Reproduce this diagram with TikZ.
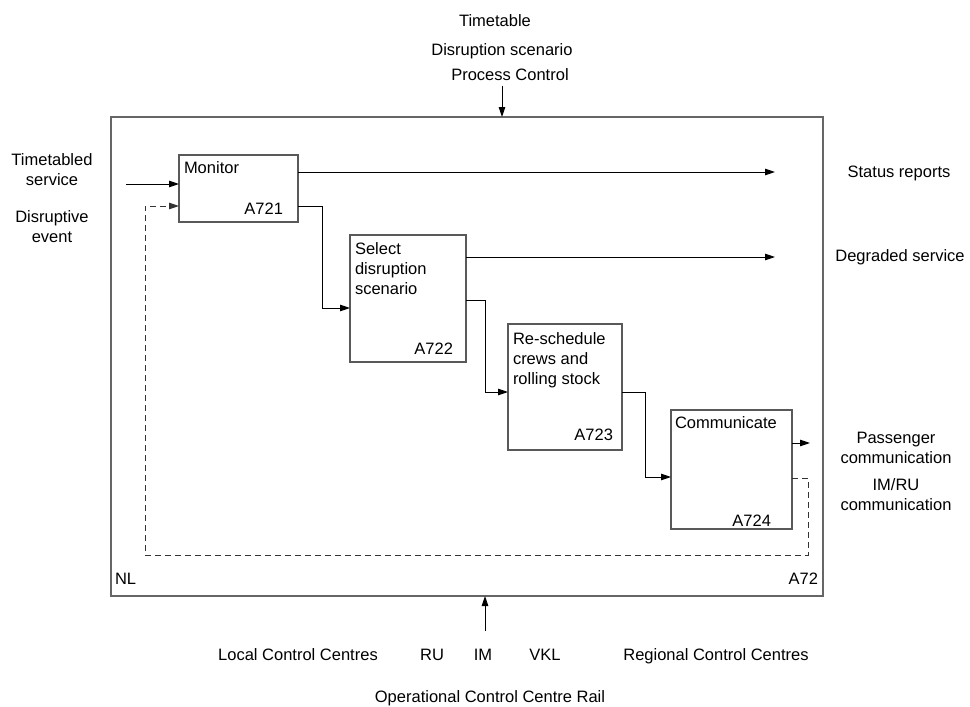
\documentclass[tikz,border=0pt]{standalone}
\usepackage{fontspec}
\setmainfont{Liberation Sans}
\usetikzlibrary{arrows.meta}
\begin{document}
\begin{tikzpicture}[x=1pt,y=-1pt,
  every node/.style={inner sep=0pt, outer sep=0pt},
  txt/.style={font=\fontsize{16.5}{20}\selectfont},
  lbl/.style={txt, align=center, anchor=north},
  onel/.style={txt, anchor=base},
  inlbl/.style={txt, align=left, anchor=north west},
  code/.style={txt, anchor=base east},
  activity/.style={draw=black!65, line width=1.1pt, anchor=north west},
  frame/.style={draw=black!60, line width=1.5pt, anchor=north west},
  flow/.style={draw=black, line width=0.9pt, -{Triangle[length=10pt,width=6.5pt]}},
  feedback/.style={flow, draw=black!80, dash pattern=on 6pt off 4pt}]

\useasboundingbox (0,0) rectangle (970,707);

% context frame of A72
\node[frame, minimum width=712, minimum height=479] (A72) at (111,117) {};
\node[txt, anchor=base west] (nl) at (115,584) {NL};
\node[code] (a72) at (818,584) {A72};

% activity boxes
\node[activity, minimum width=119, minimum height=67] (m) at (179,155) {};
\node[activity, minimum width=116, minimum height=127] (s) at (350,235) {};
\node[activity, minimum width=114, minimum height=126] (r) at (508,324) {};
\node[activity, minimum width=121, minimum height=119] (c) at (671,410) {};

\node[inlbl] (mt) at (184,162) {Monitor};
\node[code] (mc) at (283,214) {A721};
\node[inlbl] (st) at (355,243) {Select\\disruption\\scenario};
\node[code] (sc) at (453,354) {A722};
\node[inlbl] (rt) at (513,333) {Re-schedule\\crews and\\rolling stock};
\node[code] (rc) at (613,440) {A723};
\node[inlbl] (ct) at (675,417) {Communicate};
\node[code] (cc) at (771,526) {A724};

% controls (top)
\node[onel] (ctl1) at (495,26) {Timetable};
\node[onel] (ctl2) at (502,55) {Disruption scenario};
\node[onel] (ctl3) at (510,80) {Process Control};
\coordinate (ctlin) at (502,86);
\draw[flow] (ctlin) -- (ctlin |- A72.north);

% inputs (left)
\node[lbl] (in1) at (52,154) {Timetabled\\service};
\node[lbl] (in2) at (52,211) {Disruptive\\event};
\coordinate (tin) at (126,184);
\draw[flow] (tin) -- (tin -| m.west);

% outputs (right)
\node[onel] (out1) at (899,177) {Status reports};
\node[onel] (out2) at (900,261) {Degraded service};
\node[lbl] (out3) at (896,432) {Passenger\\communication};
\node[lbl] (out4) at (896,479) {IM/RU\\communication};
\coordinate (so) at (775,172);
\coordinate (dg) at (775,257);
\coordinate (pc) at (810,443);
\draw[flow] (m.east |- so) -- (so);
\draw[flow] (s.east |- dg) -- (dg);
\draw[flow] (c.east |- pc) -- (pc);

% flow between activities
\draw[flow] ([yshift=-51pt]m.north east) -- ++(24,0) |- ([yshift=-73pt]s.north west);
\draw[flow] ([yshift=-65pt]s.north east) -- ++(19,0) |- ([yshift=-68pt]r.north west);
\draw[flow] ([yshift=-68pt]r.north east) -- ++(23,0) |- ([yshift=-67pt]c.north west);

% feedback loop
\coordinate (fb1) at (808,555);
\coordinate (fb2) at (145,555);
\draw[feedback] ([yshift=-68pt]c.north east) -| (fb1) -- (fb2) |- ([yshift=-51pt]m.north west);

% mechanisms (bottom)
\coordinate (mech) at (485,631);
\draw[flow] (mech) -- (mech |- A72.south);
\node[onel] (mc1) at (298,660) {Local Control Centres};
\node[onel] (mc2) at (432,660) {RU};
\node[onel] (mc3) at (483,660) {IM};
\node[onel] (mc4) at (545,660) {VKL};
\node[onel] (mc5) at (716,660) {Regional Control Centres};
\node[onel] (mc6) at (490,702) {Operational Control Centre Rail};
\end{tikzpicture}
\end{document}
